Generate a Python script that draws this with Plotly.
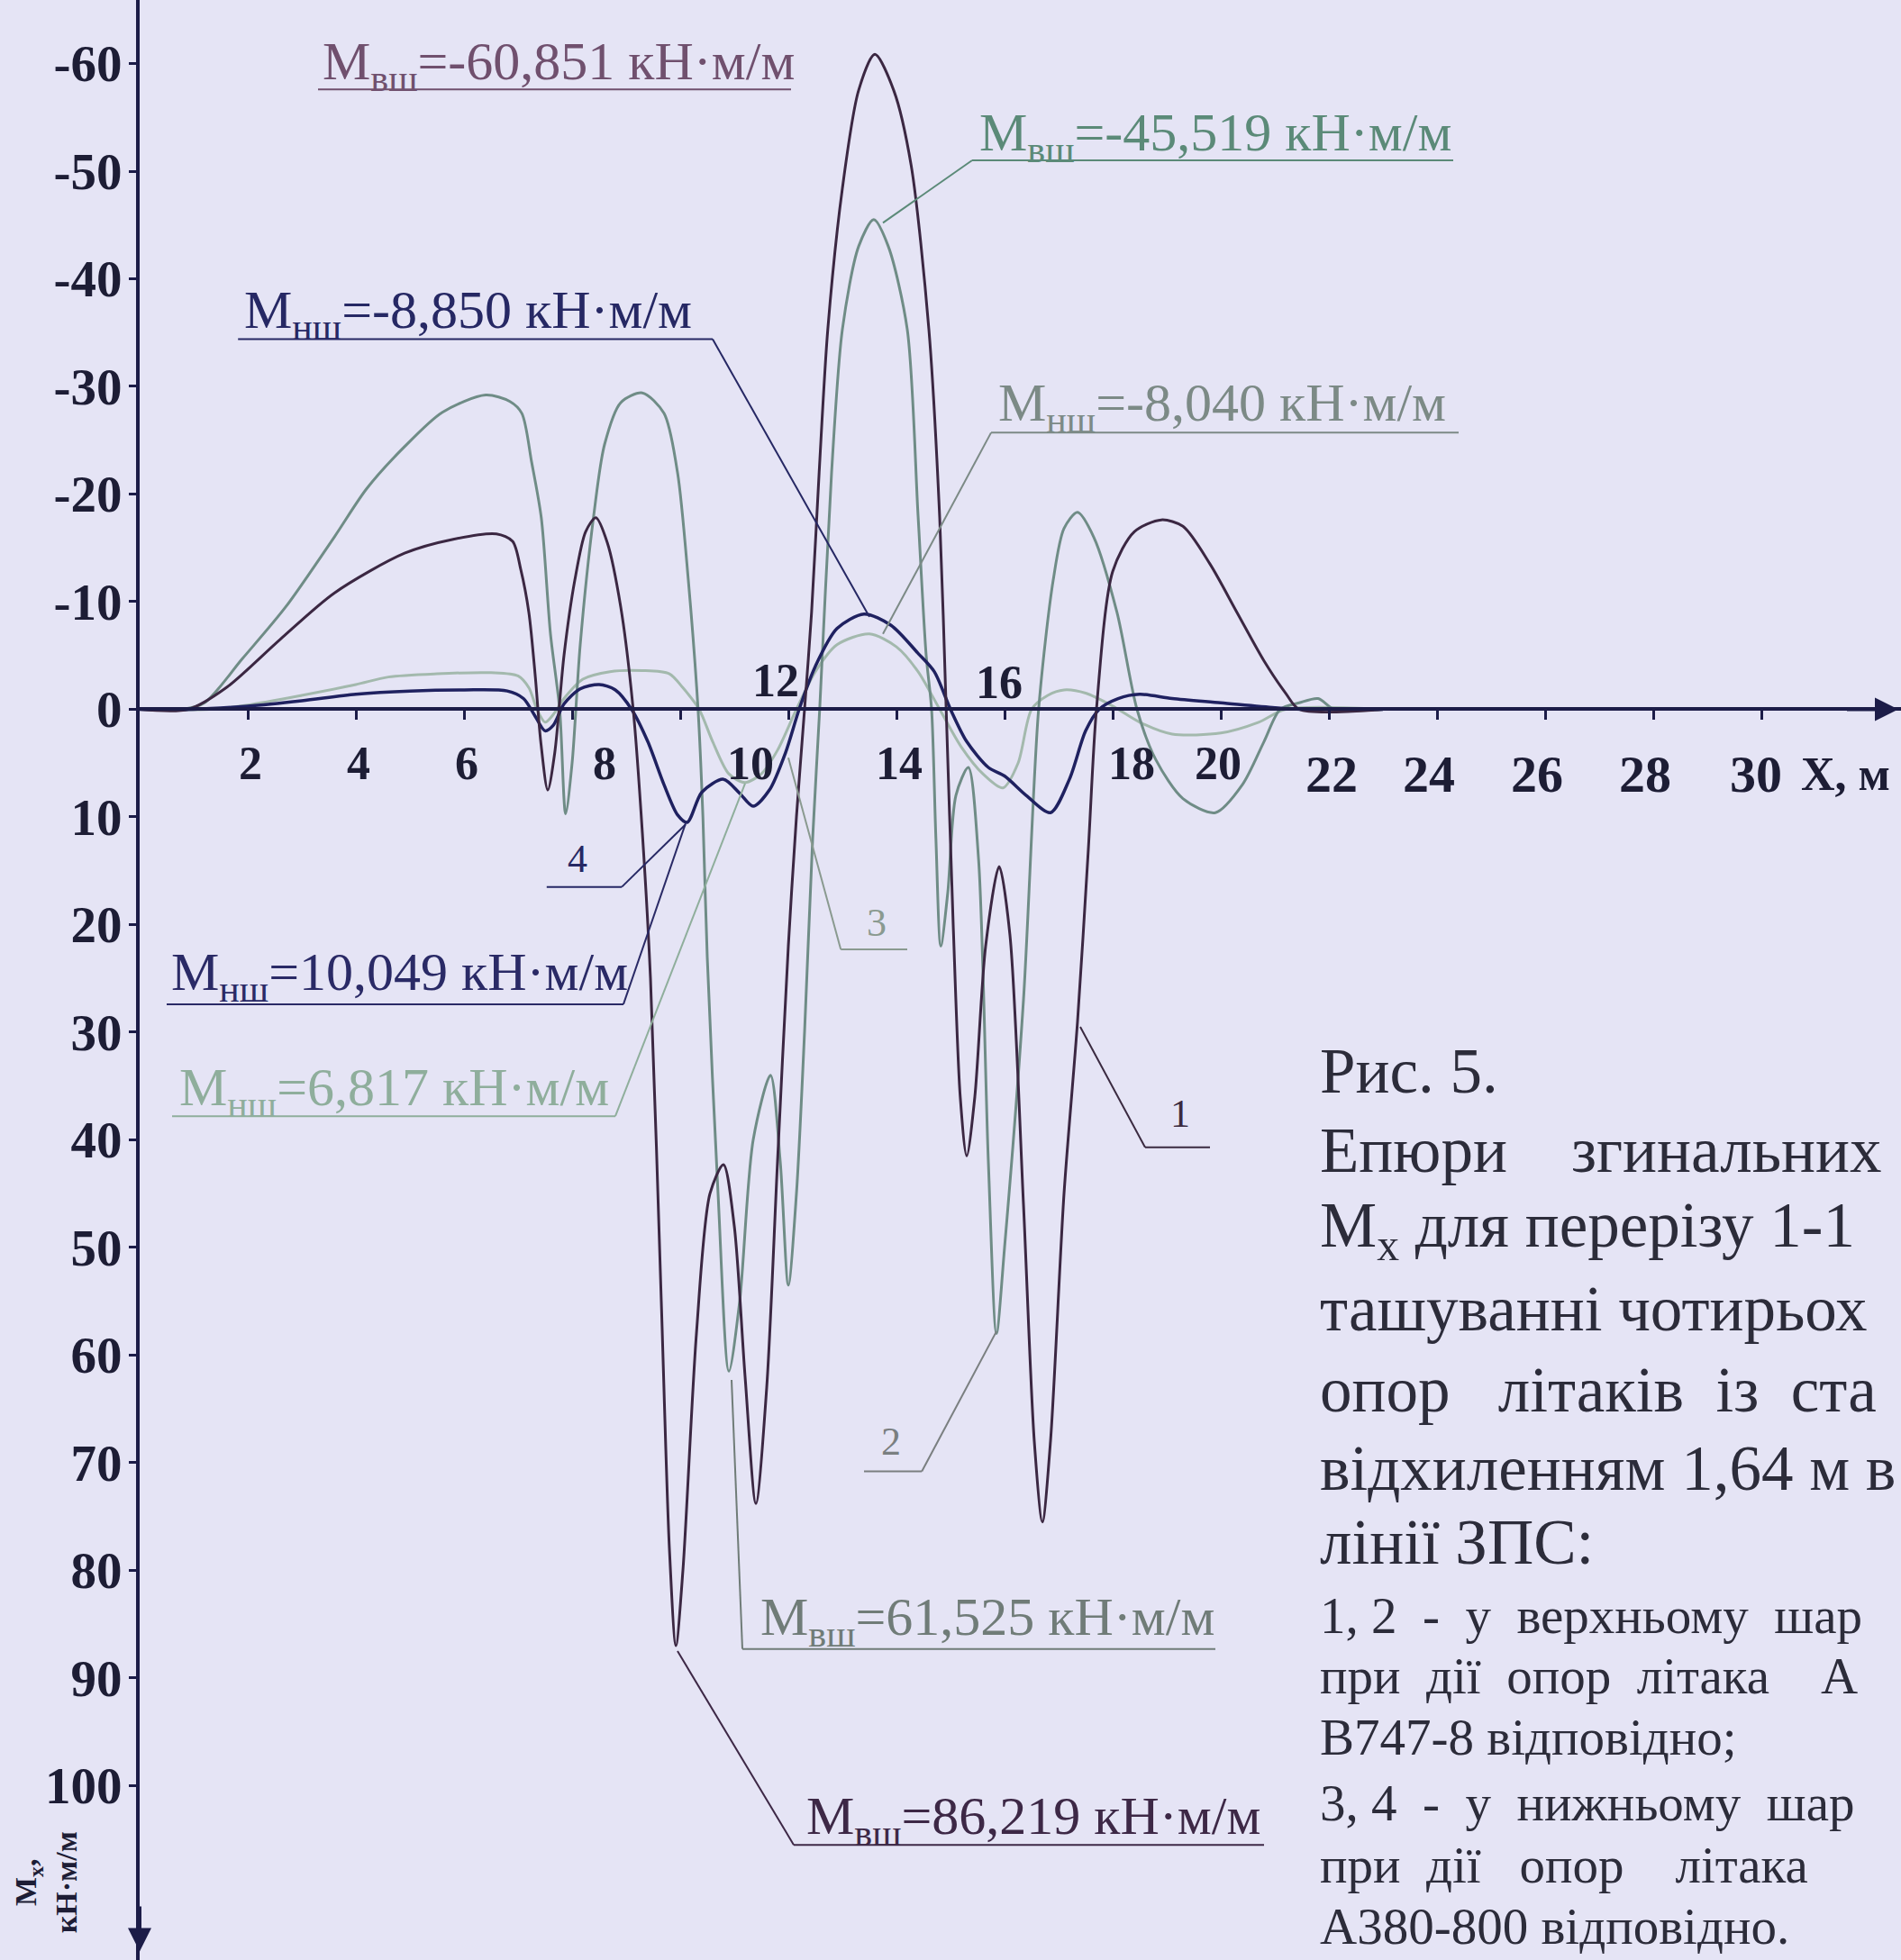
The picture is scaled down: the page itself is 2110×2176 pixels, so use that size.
import plotly.graph_objects as go

# ---------------- data ----------------
# curve 1 (upper layer, dark)
x1 = [0, 0.9, 1.6, 2.6, 3.6, 4.9, 5.8, 6.6, 6.9, 7.05, 7.2, 7.32, 7.42, 7.55, 7.68, 7.85, 8.05, 8.25, 8.44,
      8.65, 8.9, 9.13, 9.3, 9.45, 9.65, 9.8, 9.92, 10.05, 10.3, 10.55, 10.8, 11.0, 11.2, 11.4, 11.6, 11.8,
      12.0, 12.15, 12.3, 12.43, 12.57, 12.73, 13.0, 13.3, 13.6, 13.95, 14.27, 14.6, 14.8, 14.92, 15.05,
      15.18, 15.3, 15.45, 15.65, 15.9, 16.1, 16.35, 16.55, 16.7, 16.85, 17.1, 17.35, 17.55, 17.7, 18.0,
      18.4, 18.9, 19.3, 19.8, 20.3, 20.8, 21.2, 21.45, 23.0]
y1 = [0, 0, -2, -6.5, -10.8, -14.5, -15.8, -16.3, -15.6, -13, -9, -3, 3, 7.5, 4, -5, -12, -16.5, -17.8,
      -15.5, -9.5, 0, 11.5, 25, 55, 78, 87, 80, 58, 45, 42.3, 48, 62, 73.8, 63, 42,
      22, 10, 0, -9, -22, -35.3, -48.4, -57.5, -60.85, -57.5, -50.6, -35.3, -17.8, 0, 20,
      36, 41.5, 36, 22, 14.6, 21, 46, 68, 75.5, 68, 45, 29, 13, 0, -12.8,
      -16.5, -17.6, -17, -13.5, -9, -4.5, -1.5, 0, 0]

# curve 2 (upper layer, grey-green)
x2 = [0, 0.8, 1.2, 1.9, 2.7, 3.6, 4.2, 4.9, 5.6, 6.4, 6.85, 7.07, 7.25, 7.43, 7.6, 7.77, 7.88, 8.0, 8.15,
      8.4, 8.6, 8.9, 9.3, 9.7, 9.95, 10.15, 10.33, 10.42, 10.5, 10.7, 10.9, 11.1, 11.35, 11.67, 11.85,
      12.0, 12.15, 12.3, 12.45, 12.58, 12.8, 13.0, 13.3, 13.58, 13.85, 14.2, 14.4, 14.55, 14.65, 14.73,
      14.82, 14.95, 15.1, 15.33, 15.52, 15.7, 15.85, 16.0, 16.35, 16.63, 16.9, 17.1, 17.35, 17.65, 18.08,
      18.45, 18.8, 19.3, 19.9, 20.4, 20.8, 21.1, 21.45, 21.8, 22.1, 23.0]
y2 = [0, 0, -0.6, -4.7, -9.5, -16, -20.5, -24.4, -27.6, -29.2, -28.6, -27.5, -23, -17.8, -7, 0, 9.7, 5, -6,
      -18, -24.6, -28.5, -29.4, -27.5, -22, -12, 0, 10, 23, 45, 61.5, 55, 40, 34, 42,
      53.5, 45, 30, 12, 0, -22, -35.3, -43, -45.5, -43, -35.3, -18, -5, 0, 12,
      22, 17, 8, 5.4, 14, 42, 58, 50, 27, 0, -12, -16.8, -18.3, -16, -9,
      0, 4.7, 8.3, 9.6, 7, 3, 0, -0.6, -1, 0, 0]

# curve 3 (lower layer, light green)
x3 = [0, 1.3, 2.0, 3.0, 4.0, 4.6, 5.5, 6.5, 7.0, 7.2, 7.35, 7.5, 7.65, 7.85, 8.2, 8.7, 9.3, 9.8, 10.05,
      10.35, 10.6, 10.9, 11.2, 11.5, 11.8, 12.15, 12.5, 12.9, 13.5, 14.0, 14.4, 14.8, 15.2, 15.6, 15.97,
      16.25, 16.5, 16.8, 17.1, 17.5, 18.0, 18.5, 19.1, 20.0, 20.7, 21.2, 23.0]
y3 = [0, 0, -0.4, -1.3, -2.3, -3, -3.3, -3.4, -3.1, -2, 0, 1.2, 0.5, -1, -2.8, -3.5, -3.6, -3.3, -2,
      0, 3, 6, 6.8, 6, 3.8, 0, -3.5, -6, -7, -5.8, -3.5, 0, 3.5, 6, 7.3,
      5, 0, -1.3, -1.8, -1.5, -0.3, 1.2, 2.3, 2.2, 1.2, 0, 0]

# curve 4 (lower layer, navy)
x4 = [0, 1.0, 2.0, 3.0, 4.0, 5.0, 6.0, 6.8, 7.1, 7.3, 7.5, 7.65, 7.85, 8.15, 8.5, 8.8, 9.1, 9.4, 9.7,
      9.95, 10.13, 10.4, 10.8, 11.1, 11.35, 11.65, 11.95, 12.2, 12.5, 12.9, 13.4, 13.9, 14.4, 14.7, 15.0,
      15.3, 15.7, 16.0, 16.4, 16.85, 17.2, 17.5, 17.75, 18.1, 18.5, 19.1, 20.0, 21.0, 21.5, 23.0]
y4 = [0, 0, -0.3, -0.8, -1.4, -1.7, -1.8, -1.7, -1.0, 0.5, 2.0, 1.5, -0.5, -1.9, -2.3, -1.8, 0, 3, 7,
      9.8, 10.5, 7.7, 6.5, 7.8, 9, 7.5, 4, 0, -4, -7.5, -8.85, -7.8, -5.2, -3.5, 0,
      3, 5.4, 6.2, 8, 9.6, 6.5, 2, 0, -1, -1.4, -1.0, -0.6, -0.15, 0, 0]

y_tick_vals = [-60, -50, -40, -30, -20, -10, 0, 10, 20, 30, 40, 50, 60, 70, 80, 90, 100]
y_tick_text = ["-60", "-50", "-40", "-30", "-20", "-10", "0", "10", "20", "30", "40", "50",
               "60", "70", "80", "90", "100"]
x_tick_vals = [2, 4, 6, 8, 10, 12, 14, 16, 18, 20, 22, 24, 26, 28, 30]
x_tick_text = ["2", "4", "6", "8", "10", "12", "14", "16", "18", "20", "22", "24", "26", "28", "30"]

NB = "\u00a0"
caption_lines = [
    "Рис. 5.",
    "Епюри" + NB * 3 + " згинальних",
    "M<sub>x</sub> для перерізу 1-1",
    "ташуванні чотирьох",
    "опор" + NB * 2 + " літаків" + NB + " із" + NB + " ста",
    "відхиленням 1,64 м в",
    "лінії ЗПС:",
    "1, 2" + NB + " -" + NB + " у" + NB + " верхньому" + NB + " шар",
    "при" + NB + " дії" + NB + " опор" + NB + " літака" + NB * 3 + " А",
    "В747-8 відповідно;",
    "3, 4" + NB + " -" + NB + " у" + NB + " нижньому" + NB + " шар",
    "при" + NB + " дії" + NB * 2 + " опор" + NB * 3 + " літака",
    "А380-800 відповідно.",
]

# ---------------- styling / layout ----------------
BG = "#e5e4f5"
AX = "#1c1c48"
C1, C2, C3, C4 = "#3b2742", "#6f8c86", "#a3b9ad", "#1f2160"
FONT = "Liberation Serif"

LEFT = 155
Y_TOP, Y_BOT = -65.9, 116.2
X_MAX = (2110 - LEFT) / 60.0

fig = go.Figure()
for xs, ys, c, w in [(x3, y3, C3, 3), (x2, y2, C2, 3), (x4, y4, C4, 3.5), (x1, y1, C1, 3)]:
    fig.add_trace(go.Scatter(x=xs, y=ys, mode="lines", hoverinfo="skip", showlegend=False,
                             line=dict(color=c, width=w, shape="spline", smoothing=0.8)))

zero_frac = (Y_BOT - 0) / (Y_BOT - Y_TOP)

fig.update_layout(
    width=2110, height=2176,
    margin=dict(l=LEFT, r=0, t=0, b=0),
    paper_bgcolor=BG, plot_bgcolor=BG,
    showlegend=False,
    xaxis=dict(range=[0, X_MAX], showgrid=False, zeroline=False, showline=True,
               linecolor=AX, linewidth=4, anchor="free", position=zero_frac,
               tickmode="array", tickvals=x_tick_vals, ticks="outside", ticklen=10,
               tickwidth=3, tickcolor=AX, showticklabels=False),
    yaxis=dict(range=[Y_BOT, Y_TOP], showgrid=False, zeroline=False, showline=True,
               linecolor=AX, linewidth=4, ticks="outside", ticklen=8, tickwidth=3,
               tickcolor=AX, tickmode="array", tickvals=y_tick_vals,
               ticktext=["<b>%s</b>" % t for t in y_tick_text], ticklabelstandoff=-4,
               tickfont=dict(family=FONT, size=57, color="#1d1d35")),
)

# x tick labels placed as in the original (some above / shifted)
lab_dx = {"8": 0.6, "10": 1.3, "12": -0.23, "16": -0.1, "18": 0.35, "20": -0.05, "24": -0.15, "26": -0.15,
          "28": -0.15, "30": -0.1}
lab_y = {"12": -2.7, "16": -2.5}
for v, t in zip(x_tick_vals, x_tick_text):
    big = v >= 22
    yy = lab_y.get(t, 6.0 if big else 5.0)
    fig.add_annotation(x=v + lab_dx.get(t, 0.05), y=yy, xref="x", yref="y", showarrow=False,
                       text="<b>%s</b>" % t, xanchor="center", yanchor="middle",
                       font=dict(family=FONT, size=58 if big else 52, color="#1d1d35"))
fig.add_annotation(x=30.7, y=6.0, xref="x", yref="y", showarrow=False, text="<b>X, м</b>",
                   xanchor="left", yanchor="middle", font=dict(family=FONT, size=52, color="#1d1d35"))

# axis arrows
fig.add_annotation(x=X_MAX - 0.05, y=0, xref="x", yref="y", ax=-60, ay=0, showarrow=True,
                   arrowhead=2, arrowsize=1.3, arrowwidth=4, arrowcolor=AX, text=" ")
fig.add_annotation(x=0, y=115.4, xref="x", yref="y", ax=0, ay=-60, showarrow=True,
                   arrowhead=2, arrowsize=1.3, arrowwidth=4, arrowcolor=AX, text=" ")

# y axis title (rotated, bottom-left)
fig.add_annotation(x=-0.053, y=109.0, xref="paper", yref="y", showarrow=False, textangle=-90,
                   text="<b>M<sub>x</sub>,</b><br><b>кН·м/м</b>", xanchor="center", yanchor="middle",
                   font=dict(family=FONT, size=34, color="#1d1d35"))

shapes = []


def seg(p, q, color, w=2):
    shapes.append(dict(type="line", xref="x", yref="y", x0=p[0], y0=p[1], x1=q[0], y1=q[1],
                       line=dict(color=color, width=w), layer="above"))


# value labels with underline and leader line
value_labels = [
    ("M<sub>вш</sub>=-60,851 кН·м/м", 3.35, -59.8, "#70506e", (3.3, 12.05, -57.6), None),
    ("M<sub>вш</sub>=-45,519 кН·м/м", 15.5, -53.2, "#5b8a78", (15.4, 24.3, -51.0),
     [(15.4, -51.0), (13.75, -45.2)]),
    ("M<sub>нш</sub>=-8,850 кН·м/м", 1.9, -36.7, "#262864", (1.82, 10.6, -34.4),
     [(10.6, -34.4), (13.5, -8.6)]),
    ("M<sub>нш</sub>=-8,040 кН·м/м", 15.85, -28.1, "#7c8a86", (15.75, 24.4, -25.7),
     [(15.75, -25.7), (13.75, -7.0)]),
    ("M<sub>нш</sub>=10,049 кН·м/м", 0.55, 24.8, "#2a2a66", (0.5, 8.95, 27.4),
     [(8.95, 27.4), (10.1, 10.6)]),
    ("M<sub>нш</sub>=6,817 кН·м/м", 0.7, 35.5, "#8fae9c", (0.6, 8.8, 37.8),
     [(8.8, 37.8), (11.2, 6.9)]),
    ("M<sub>вш</sub>=61,525 кН·м/м", 11.45, 84.7, "#707c78", (11.15, 19.9, 87.3),
     [(11.15, 87.3), (10.95, 62.3)]),
    ("M<sub>вш</sub>=86,219 кН·м/м", 12.3, 103.2, "#3d2846", (12.1, 20.8, 105.5),
     [(12.1, 105.5), (9.95, 87.5)]),
]
for text, x, y, col, ul, lead in value_labels:
    fig.add_annotation(x=x, y=y, xref="x", yref="y", showarrow=False, text=text, xanchor="left",
                       yanchor="middle", font=dict(family=FONT, size=60, color=col))
    seg((ul[0], ul[2]), (ul[1], ul[2]), col)
    if lead:
        seg(lead[0], lead[1], col)

curve_numbers = [
    ("4", 8.1, 13.9, "#262864", (7.53, 8.92, 16.5), [(8.92, 16.5), (10.1, 10.7)]),
    ("3", 13.63, 19.8, "#8a9a90", (12.97, 14.2, 22.3), [(12.97, 22.3), (12.0, 4.5)]),
    ("2", 13.9, 68.0, "#7a7f80", (13.4, 14.47, 70.8), [(14.47, 70.8), (15.85, 57.8)]),
    ("1", 19.25, 37.6, "#3a2a40", (18.6, 19.8, 40.7), [(18.6, 40.7), (17.4, 29.5)]),
]
for text, x, y, col, ul, lead in curve_numbers:
    fig.add_annotation(x=x, y=y, xref="x", yref="y", showarrow=False, text=text, xanchor="center",
                       yanchor="middle", font=dict(family=FONT, size=44, color=col))
    seg((ul[0], ul[2]), (ul[1], ul[2]), col)
    seg(lead[0], lead[1], col)

fig.update_layout(shapes=shapes)

# caption block (cut by the right edge as in the photo)
cap_y = [33.6, 41.0, 48.4, 55.7, 63.2, 70.5, 77.4, 84.2, 89.8, 95.5, 101.6, 107.4, 113.1]
for i, (t, yy) in enumerate(zip(caption_lines, cap_y)):
    fig.add_annotation(x=21.8, y=yy, xref="x", yref="y", showarrow=False, text=t, xanchor="left",
                       yanchor="middle",
                       font=dict(family=FONT, size=71 if i < 7 else 57, color="#2c2c3a"))

fig.write_html(
    "out.html",
    config={"displayModeBar": False},
    post_script="document.body.style.margin='0';document.body.style.overflow='hidden';"
                "document.body.style.background='%s';" % BG,
)
